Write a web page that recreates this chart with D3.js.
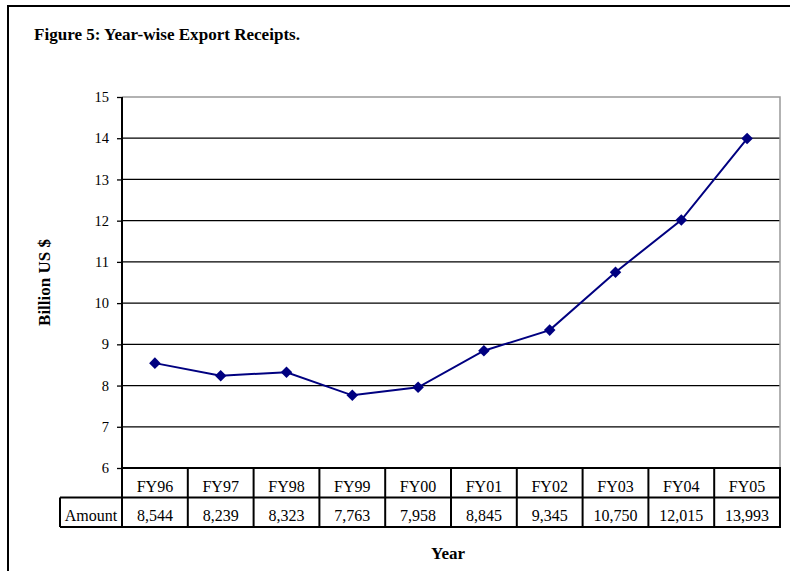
<!DOCTYPE html>
<html>
<head>
<meta charset="utf-8">
<script src="https://cdn.jsdelivr.net/npm/d3@7"></script>
<style>
  body { margin: 0; background: #fff; }
  text { font-family: "Liberation Serif", "Times New Roman", serif; fill: #000; }
</style>
</head>
<body>
<div id="vis"></div>
<script>
const years = ['FY96', 'FY97', 'FY98', 'FY99', 'FY00', 'FY01', 'FY02', 'FY03', 'FY04', 'FY05']
const amounts = [8544, 8239, 8323, 7763, 7958, 8845, 9345, 10750, 12015, 13993]  // million US $
const yTicks = [6, 7, 8, 9, 10, 11, 12, 13, 14, 15]

const W = 790, H = 571
const plot = { left: 122, top: 97, right: 780, bottom: 468 }
const rowH = 29.5

const svg = d3.select('#vis')
    .append('svg')
    .attr('width', W)
    .attr('height', H)

// outer frame (right and bottom run off the page)
svg.append('path')
    .attr('d', `M8,${H + 5} L8,6 L${W + 5},6`)
    .attr('fill', 'none')
    .attr('stroke', '#000')
    .attr('stroke-width', 2)

svg.append('text')
    .attr('x', 34)
    .attr('y', 40)
    .style('font-weight', 'bold')
    .style('font-size', '16px')
    .attr('textLength', 266)
    .attr('lengthAdjust', 'spacingAndGlyphs')
    .text('Figure 5: Year-wise Export Receipts.')

const xScale = d3.scaleBand()
    .domain(years)
    .range([plot.left, plot.right])

const yScale = d3.scaleLinear()
    .domain([6, 15])
    .range([plot.bottom, plot.top])

// gridlines
svg.append('g')
    .selectAll('line')
    .data(yTicks.filter(d => d > 6 && d < 15))
    .join('line')
    .attr('x1', plot.left)
    .attr('x2', plot.right)
    .attr('y1', d => yScale(d))
    .attr('y2', d => yScale(d))
    .attr('stroke', '#000')
    .attr('stroke-width', 1.3)

// plot area border (top + right, grey)
svg.append('path')
    .attr('d', `M${plot.left},${yScale(15)} L${plot.right},${yScale(15)} L${plot.right},${plot.bottom}`)
    .attr('fill', 'none')
    .attr('stroke', '#999')
    .attr('stroke-width', 1.5)

// y axis
const yAxis = d3.axisLeft(yScale)
    .tickValues(yTicks)
    .tickSize(5)
    .tickPadding(8)

const yG = svg.append('g')
    .attr('transform', `translate(${plot.left},0)`)
    .call(yAxis)
yG.select('.domain').attr('stroke-width', 2).attr('d', `M0,${plot.top}V${plot.bottom}`)
yG.selectAll('.tick line').attr('stroke-width', 1.3)
yG.selectAll('text')
    .style('font-family', '"Liberation Serif", "Times New Roman", serif')
    .style('font-size', '14.5px')
    .style('fill', '#000')

svg.append('text')
    .attr('transform', `translate(50,${(plot.top + plot.bottom) / 2}) rotate(-90)`)
    .attr('text-anchor', 'middle')
    .style('font-weight', 'bold')
    .style('font-size', '17px')
    .text('Billion US $')

// data table
const table = svg.append('g')
const row1 = plot.bottom, row2 = plot.bottom + rowH, row3 = plot.bottom + 2 * rowH
const amountLeft = 60

table.append('path')
    .attr('d', `M${plot.left},${row1} H${plot.right + 1} M${amountLeft},${row2} H${plot.right + 1} M${amountLeft},${row3} H${plot.right + 1}
               M${amountLeft},${row2} V${row3} M${plot.left},${row1} V${row3}`)
    .attr('stroke', '#000')
    .attr('stroke-width', 2)
    .attr('fill', 'none')

table.selectAll('.vline')
    .data(years)
    .join('line')
    .attr('class', 'vline')
    .attr('x1', d => xScale(d) + xScale.bandwidth())
    .attr('x2', d => xScale(d) + xScale.bandwidth())
    .attr('y1', row1)
    .attr('y2', row3)
    .attr('stroke', '#000')
    .attr('stroke-width', 2)

const cellFont = '16px'

table.selectAll('.yr')
    .data(years)
    .join('text')
    .attr('class', 'yr')
    .attr('x', d => xScale(d) + xScale.bandwidth() / 2)
    .attr('y', row1 + 24)
    .attr('text-anchor', 'middle')
    .style('font-size', cellFont)
    .text(d => d)

table.selectAll('.amt')
    .data(amounts)
    .join('text')
    .attr('class', 'amt')
    .attr('x', (d, i) => xScale(years[i]) + xScale.bandwidth() / 2)
    .attr('y', row2 + 23)
    .attr('text-anchor', 'middle')
    .style('font-size', cellFont)
    .text(d => d3.format(',')(d))

table.append('text')
    .attr('x', (amountLeft + plot.left) / 2)
    .attr('y', row2 + 23)
    .attr('text-anchor', 'middle')
    .style('font-size', cellFont)
    .text('Amount')

svg.append('text')
    .attr('x', 448)
    .attr('y', 559)
    .attr('text-anchor', 'middle')
    .style('font-weight', 'bold')
    .style('font-size', '17px')
    .text('Year')

// series
const pts = amounts.map((v, i) => ({ x: xScale(years[i]) + xScale.bandwidth() / 2, y: yScale(v / 1000) }))

svg.append('path')
    .datum(pts)
    .attr('d', d3.line().x(d => d.x).y(d => d.y))
    .attr('fill', 'none')
    .attr('stroke', '#000080')
    .attr('stroke-width', 2)

svg.selectAll('.pt')
    .data(pts)
    .join('path')
    .attr('class', 'pt')
    .attr('transform', d => `translate(${d.x},${d.y})`)
    .attr('d', d3.symbol(d3.symbolDiamond2, 85))
    .attr('fill', '#000080')
</script>
</body>
</html>
